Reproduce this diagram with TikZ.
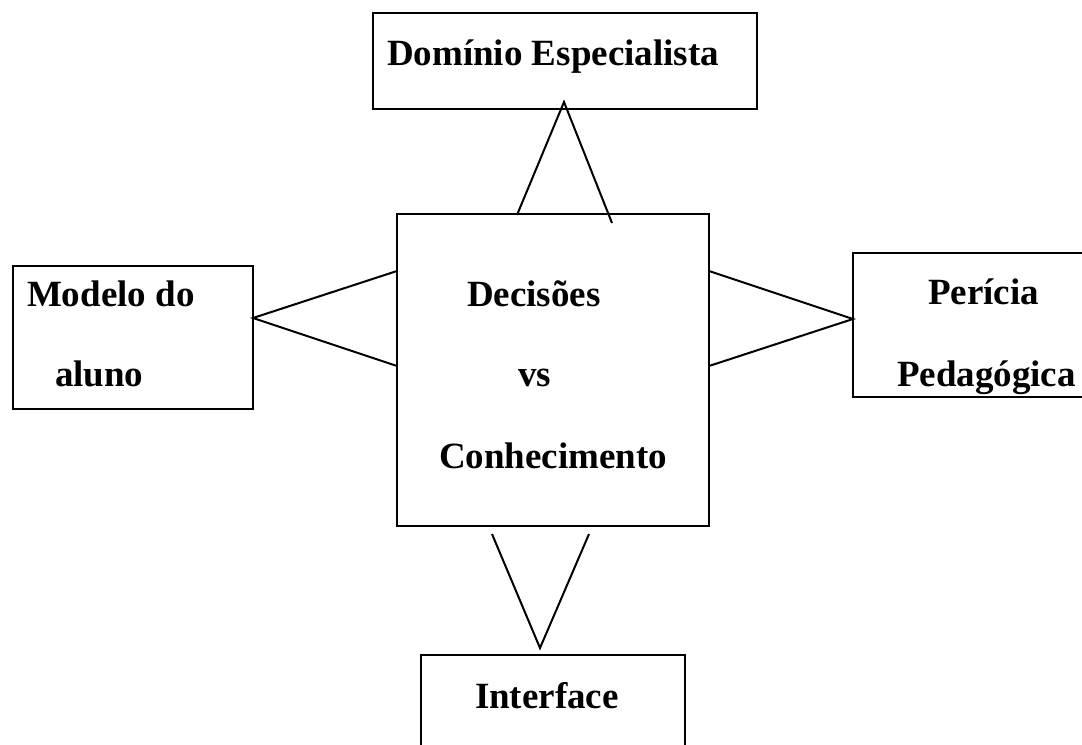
\documentclass[tikz,border=0pt]{standalone}
\usepackage{fontspec}
\setmainfont{Liberation Serif}
\newcommand{\pu}{0.75pt}
\tikzset{
  box/.style={draw, line width=1.5pt, inner sep=0pt, outer sep=0pt, fill=none},
  lbl/.style={anchor=base west, inner sep=0pt, outer sep=0pt, font=\bfseries\fontsize{27.75}{33}\selectfont},
  conn/.style={line width=1.5pt, line join=miter},
}
\begin{document}
\begin{tikzpicture}[x=0.75pt,y=-0.75pt]
\clip (0,0) rectangle (1082,745);
\fill[white] (0,0) rectangle (1082,745);
% boxes
\node[box, minimum width=384*\pu, minimum height=96*\pu] (dom) at (565,61) {};
\node[box, minimum width=312*\pu, minimum height=312*\pu] (dec) at (553,370) {};
\node[box, minimum width=240*\pu, minimum height=143*\pu] (mod) at (133,337.5) {};
\node[box, minimum width=250*\pu, minimum height=144*\pu] (per) at (978,325) {};
\node[box, minimum width=264*\pu, minimum height=110*\pu] (int) at (553,710) {};
% texts
\node[lbl] (tdom) at (387,66) {Domínio Especialista};
\node[lbl] (tdec1) at (467,307) {Decisões};
\node[lbl] (tdec2) at (518,387) {vs};
\node[lbl] (tdec3) at (439,468) {Conhecimento};
\node[lbl] (tmod1) at (27,307) {Modelo do};
\node[lbl] (tmod2) at (55,387) {aluno};
\node[lbl] (tper1) at (928,305) {Perícia};
\node[lbl] (tper2) at (897,387) {Pedagógica};
\node[lbl] (tint) at (475,708) {Interface};
% connector coordinates
\coordinate (topA) at (564,102);
\coordinate (topL) at (517,215);
\coordinate (topR) at (612,223);
\coordinate (lefA) at (253,318);
\coordinate (lefT) at (397,271);
\coordinate (lefB) at (397,366);
\coordinate (rigA) at (853,319);
\coordinate (rigT) at (709,271);
\coordinate (rigB) at (709,366);
\coordinate (botL) at (492,534);
\coordinate (botR) at (589,534);
\coordinate (botA) at (540,648);
% connectors
\draw[conn] (topL) -- (topA) -- (topR);
\draw[conn] (lefT) -- (lefA) -- (lefB);
\draw[conn] (rigT) -- (rigA) -- (rigB);
\draw[conn] (botL) -- (botA) -- (botR);
\end{tikzpicture}
\end{document}
